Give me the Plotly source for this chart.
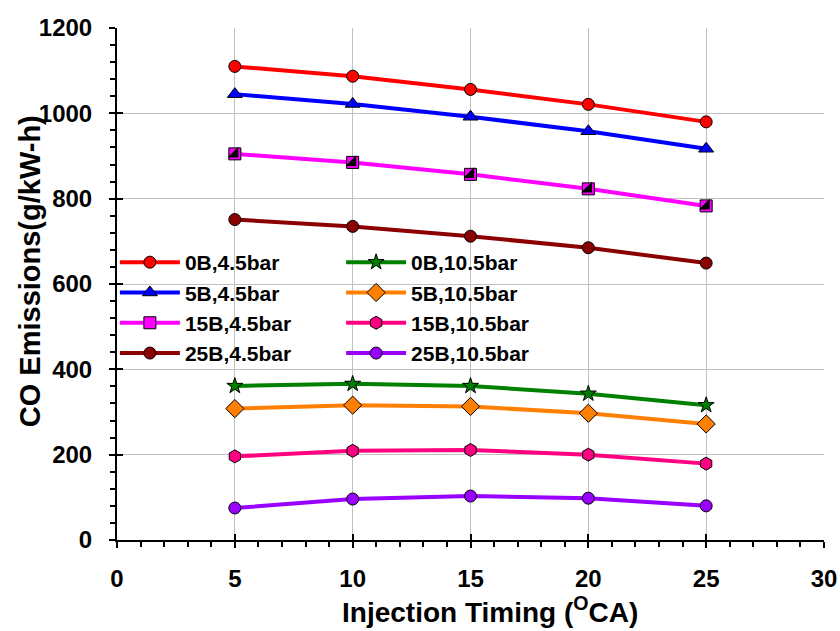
import plotly.graph_objects as go

timing = [5, 10, 15, 20, 25]

b0_45 = [1110, 1087, 1056, 1021, 980]
b5_45 = [1045, 1022, 992, 958, 917]
b15_45 = [905, 885, 857, 823, 783]
b25_45 = [751, 735, 712, 685, 649]

b0_105 = [361, 366, 361, 343, 316]
b5_105 = [308, 316, 313, 297, 272]
b15_105 = [196, 209, 211, 200, 179]
b25_105 = [75, 96, 103, 98, 80]

x_ticks = [0, 5, 10, 15, 20, 25, 30]
y_ticks = [0, 200, 400, 600, 800, 1000, 1200]

FONT = "Liberation Sans, Arial, sans-serif"

series = [
    ("0B,4.5bar", b0_45, "#FF0000", "circle", 12, "legend"),
    ("5B,4.5bar", b5_45, "#0000FF", "triangle-up", 13, "legend"),
    ("15B,4.5bar", b15_45, "#FF00FF", "square", 12, "legend"),
    ("25B,4.5bar", b25_45, "#8B0000", "circle", 12, "legend"),
    ("0B,10.5bar", b0_105, "#008000", "star", 12, "legend2"),
    ("5B,10.5bar", b5_105, "#FF8000", "diamond", 14, "legend2"),
    ("15B,10.5bar", b15_105, "#FF0080", "hexagon", 13, "legend2"),
    ("25B,10.5bar", b25_105, "#9900FF", "circle", 12, "legend2"),
]

fig = go.Figure()
for name, vals, col, sym, size, leg in series:
    fig.add_trace(go.Scatter(
        x=timing, y=vals, name=name, mode="lines+markers",
        line=dict(color=col, width=4),
        marker=dict(symbol=sym, size=size, color=col, line=dict(color="black", width=1)),
        legend=leg,
    ))

# half-black overlay for 15B,4.5bar squares
fig.add_trace(go.Scatter(
    x=timing, y=b15_45, mode="markers", showlegend=False, hoverinfo="skip",
    marker=dict(symbol="triangle-se", size=12, color="black", line=dict(width=0)),
))

# invisible trace to activate overlay axes for crossing major ticks
fig.add_trace(go.Scatter(x=[None], y=[None], xaxis="x2", yaxis="y2", showlegend=False))

tickfont = dict(family=FONT, size=24, color="black", weight="bold")
xtitlefont = dict(family=FONT, size=28, color="black", weight="bold")
ytitlefont = dict(family=FONT, size=29, color="black", weight="bold")
legfont = dict(family=FONT, size=21, color="black", weight="bold")

fig.update_layout(
    width=840, height=631,
    margin=dict(l=117, r=16, t=28, b=91, autoexpand=False),
    paper_bgcolor="white", plot_bgcolor="white",
    font=dict(family=FONT, color="black"),
    xaxis=dict(
        range=[0, 30], tickvals=x_ticks, automargin=False,
        showgrid=True, gridcolor="#C0C0C0", gridwidth=1,
        showline=True, linecolor="black", linewidth=2,
        ticks="outside", ticklen=6, tickwidth=2, tickcolor="black",
        minor=dict(dtick=1, ticks="outside", ticklen=5, tickwidth=1.5, tickcolor="black", showgrid=False),
        tickfont=tickfont, ticklabelstandoff=10, zeroline=False,
    ),
    yaxis=dict(
        range=[0, 1200], tickvals=y_ticks, automargin=False,
        showgrid=True, gridcolor="#C0C0C0", gridwidth=1,
        showline=True, linecolor="black", linewidth=2,
        ticks="outside", ticklen=6, tickwidth=2, tickcolor="black",
        minor=dict(dtick=40, ticks="outside", ticklen=5, tickwidth=1.5, tickcolor="black", showgrid=False),
        tickfont=tickfont, ticklabelstandoff=12, zeroline=False,
    ),
    xaxis2=dict(
        overlaying="x", range=[0, 30], tickvals=x_ticks, showticklabels=False,
        showgrid=False, zeroline=False, side="bottom", automargin=False,
        ticks="inside", ticklen=6, tickwidth=2, tickcolor="black",
    ),
    yaxis2=dict(
        overlaying="y", range=[0, 1200], tickvals=y_ticks, showticklabels=False,
        showgrid=False, zeroline=False, side="left", automargin=False,
        ticks="inside", ticklen=6, tickwidth=2, tickcolor="black",
    ),
    legend=dict(
        x=-0.003, y=0.582, xanchor="left", yanchor="top",
        bgcolor="rgba(0,0,0,0)", font=legfont, itemwidth=60, tracegroupgap=0,
        traceorder="normal",
    ),
    legend2=dict(
        x=0.317, y=0.582, xanchor="left", yanchor="top",
        bgcolor="rgba(0,0,0,0)", font=legfont, itemwidth=60, tracegroupgap=0,
        traceorder="normal",
    ),
    annotations=[
        dict(
            text="CO Emissions(g/kW-h)", textangle=-90, showarrow=False,
            xref="paper", yref="paper", x=-0.123, y=0.525, xanchor="center", yanchor="middle",
            font=ytitlefont,
        ),
        dict(
            text="Injection Timing (<sup>O</sup>CA)", showarrow=False,
            xref="paper", yref="paper", x=0.527, y=-0.1375, xanchor="center", yanchor="middle",
            font=xtitlefont,
        ),
    ],
)

fig.write_html("out.html", config={"displayModeBar": False},
               post_script="document.body.style.margin='0px';")
